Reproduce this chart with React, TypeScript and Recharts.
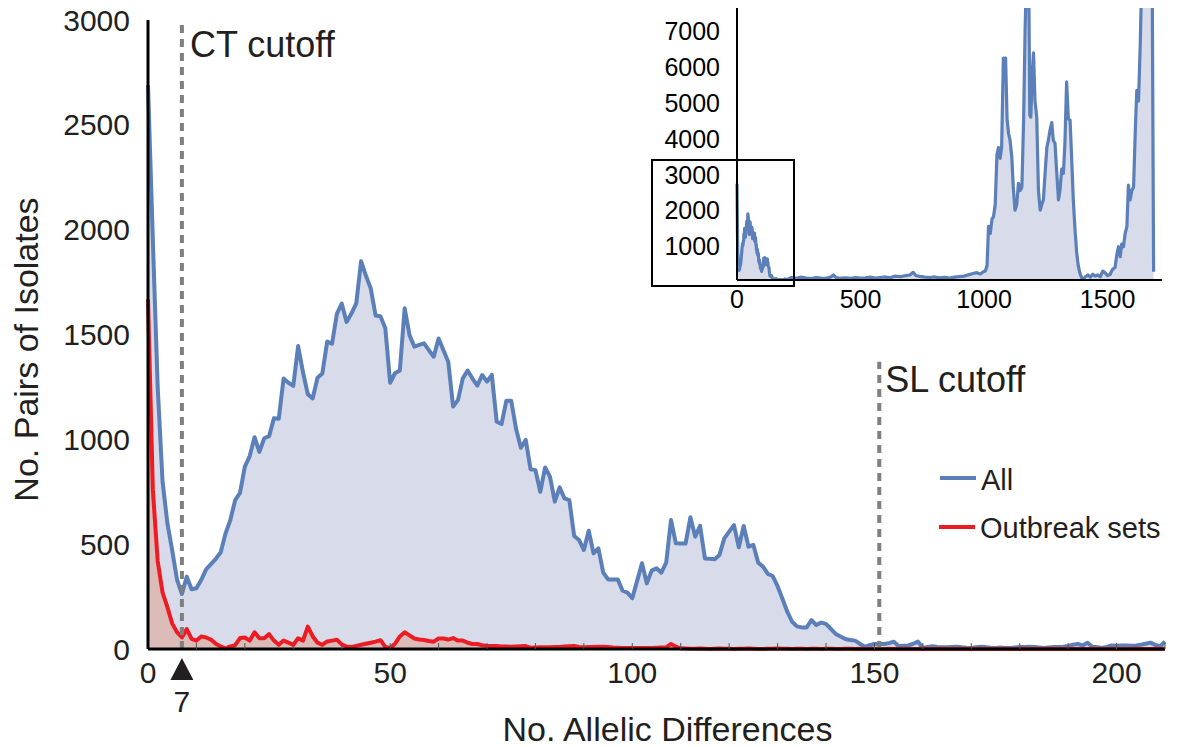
import React from 'react';
import { ComposedChart, AreaChart, Area, XAxis, YAxis, ReferenceLine, Legend } from 'recharts';

const FONT = '"Liberation Sans", Arial, Helvetica, sans-serif';
const TEXT = '#231f20';
const BLUE = '#5b7fb8';
const BLUE_FILL = '#d8dcea';
const RED = '#ed1c24';
const RED_FILL = '#dcbcb8';

// ---- main chart data (No. allelic differences 0..210) ----
const allelicDiffs: number[] = Array.from({ length: 211 }, (_, i) => i);

const allPairs: number[] = [
  2690, 1950, 1250, 800, 600, 470, 330, 262, 345, 285,
  290, 330, 380, 405, 430, 460, 550, 615, 710, 745,
  870, 920, 1010, 940, 1005, 1015, 1100, 1098, 1290, 1270,
  1255, 1445, 1320, 1215, 1195, 1294, 1314, 1466, 1456, 1598,
  1648, 1560, 1600, 1648, 1850, 1780, 1719, 1590, 1587, 1530,
  1270, 1315, 1328, 1625, 1497, 1442, 1450, 1458, 1425, 1394,
  1481, 1425, 1370, 1156, 1187, 1291, 1328, 1290, 1256, 1307,
  1275, 1307, 1084, 1073, 1184, 1184, 1050, 960, 997, 857,
  853, 750, 866, 822, 703, 771, 718, 710, 539, 520,
  472, 564, 456, 480, 364, 332, 332, 332, 278, 269,
  242, 325, 409, 313, 374, 385, 364, 412, 615, 504,
  503, 503, 628, 536, 587, 432, 430, 428, 448, 528,
  560, 591, 485, 587, 488, 496, 412, 393, 358, 348,
  300, 240, 178, 130, 108, 103, 103, 138, 114, 126,
  120, 96, 72, 60, 48, 43, 40, 25, 11, 18,
  24, 24, 24, 28, 35, 13, 15, 17, 25, 35,
  5, 10, 13, 10, 8, 8, 10, 11, 8, 6,
  5, 8, 11, 9, 6, 5, 7, 5, 5, 7,
  9, 10, 11, 9, 7, 5, 7, 9, 10, 11,
  15, 20, 24, 17, 30, 11, 8, 5, 10, 17,
  15, 17, 17, 15, 17, 20, 25, 30, 20, 13,
  35,
];

const outbreakPairs: number[] = [
  1668, 760, 420, 270, 200, 121, 80, 55, 95, 48,
  40, 60, 55, 45, 25, 12, 3, 12, 18, 52,
  55, 40, 80, 51, 51, 71, 40, 20, 40, 30,
  20, 51, 40, 107, 61, 30, 20, 36, 40, 44,
  22, 12, 10, 15, 20, 25, 30, 35, 42, 10,
  5, 25, 60, 80, 65, 50, 45, 43, 38, 35,
  50, 50, 45, 52, 40, 40, 30, 24, 24, 18,
  14, 14, 14, 12, 12, 11, 12, 13, 14, 6,
  7, 8, 8, 8, 9, 10, 12, 13, 14, 10,
  8, 9, 10, 11, 11, 9, 7, 6, 5, 5,
  5, 5, 5, 5, 5, 6, 7, 8, 24, 11,
  3, 2, 1, 1, 2, 1, 0, 1, 2, 1,
  1, 0, 1, 1, 2, 1, 0, 0, 1, 1,
  2, 1, 1, 0, 1, 1, 0, 1, 1, 0,
  1, 1, 0, 0, 1, 1, 0, 1, 0, 0,
  1, 0, 0, 1, 0, 0, 1, 0, 0, 0,
  1, 0, 0, 0, 1, 0, 0, 0, 1, 0,
  0, 0, 1, 0, 0, 0, 0, 1, 0, 0,
  0, 1, 0, 0, 0, 0, 1, 0, 0, 0,
  1, 0, 0, 0, 0, 1, 0, 0, 0, 0,
  1, 0, 0, 0, 1, 0, 0, 0, 1, 0,
  1,
];

const xTicks: number[] = [0, 7, 10, 20, 30, 40, 50, 60, 70, 80, 90, 100, 110, 120, 130, 140, 150, 160, 170, 180, 190, 200, 210];
const yTicks: number[] = [0, 500, 1000, 1500, 2000, 2500, 3000];
const ctCutoff = 7;
const slCutoff = 151;
const slLineTop = 1370;

// ---- inset data (beyond 210 differences) ----
const insetDiffs: number[] = [
  220, 240, 260, 280, 300, 320, 340, 360, 380, 390, 400, 420, 440, 460, 480, 500, 520, 540, 560, 580,
  600, 620, 640, 660, 680, 700, 713, 725, 740, 760, 780, 800, 820, 840, 860, 880, 900, 920, 940, 955,
  970, 985, 997, 1005, 1012, 1018, 1025, 1032, 1038, 1045, 1052, 1058, 1065, 1071, 1078, 1083, 1087, 1093, 1099, 1105,
  1112, 1118, 1125, 1132, 1139, 1146, 1153, 1160, 1166, 1173, 1180, 1185, 1189, 1195, 1200, 1206, 1213, 1220, 1227, 1233,
  1240, 1247, 1254, 1260, 1267, 1274, 1280, 1287, 1294, 1301, 1307, 1314, 1321, 1327, 1334, 1341, 1348, 1355, 1361, 1368,
  1375, 1381, 1388, 1395, 1402, 1410, 1420, 1430, 1440, 1450, 1460, 1470, 1480, 1490, 1500, 1510, 1520, 1530, 1537, 1544,
  1551, 1557, 1564, 1571, 1578, 1584, 1591, 1598, 1605, 1612, 1618, 1625, 1632, 1638, 1650, 1665, 1680, 1686,
];
const insetPairs: number[] = [
  70, 45, 80, 55, 40, 65, 50, 45, 85, 140, 70, 50, 60, 45, 65, 50, 60, 80, 55, 70,
  85, 60, 110, 90, 120, 140, 214, 120, 100, 80, 70, 85, 60, 75, 55, 80, 95, 110, 150, 180,
  205, 170, 233, 250, 400, 1500, 1300, 1700, 1770, 2100, 3500, 3700, 3400, 3700, 6200, 6000, 6200, 4500, 4100, 3900,
  3450, 2600, 1950, 2100, 2700, 2500, 2600, 4500, 7000, 9000, 9000, 4600, 4550, 5800, 6350, 5000, 4560, 2500, 1950, 2100,
  2240, 3000, 3700, 3900, 4200, 4400, 3900, 3820, 3000, 2240, 2500, 3100, 2980, 3800, 5540, 4500, 4470, 3300, 2240, 1400,
  745, 400, 186, 60, 30, 90, 140, 80, 160, 110, 140, 90, 250, 200, 120, 160, 300, 350, 700, 930,
  650, 1000, 930, 1300, 1500, 2650, 2235, 2500, 2600, 4200, 5300, 5000, 6600, 8500, 9000, 9000, 9000, 230,
];
const insetXTicks: number[] = [0, 500, 1000, 1500];
const insetYTicks: number[] = [1000, 2000, 3000, 4000, 5000, 6000, 7000];

const mainData = allelicDiffs.map((d, i) => ({ d, all: allPairs[i], outbreak: outbreakPairs[i] }));
const insetData = [
  ...allelicDiffs.map((d, i) => ({ d, v: allPairs[i] })),
  ...insetDiffs.map((d, i) => ({ d, v: insetPairs[i] })),
];

const XTick = (props: any) => {
  const { x, y, payload } = props;
  const v = payload.value;
  if (v === ctCutoff) {
    return (
      <g>
        <path d={`M${x},${y + 9} L${x - 11.5},${y + 31} L${x + 11.5},${y + 31} Z`} fill={TEXT} />
        <text x={x} y={y + 63} textAnchor="middle" fontSize={30} fontFamily={FONT} fill={TEXT}>7</text>
      </g>
    );
  }
  return (
    <g>
      {v > 0 && v % 10 === 0 ? <line x1={x} x2={x} y1={y - 6} y2={y} stroke="#555" strokeWidth={1} /> : null}
      {v % 50 === 0 ? (
        <text x={x} y={y + 34} textAnchor="middle" fontSize={30} fontFamily={FONT} fill={TEXT}>{v}</text>
      ) : null}
    </g>
  );
};

const YTick = (props: any) => {
  const { x, y, payload } = props;
  return (
    <text x={x} y={y + 10.5} textAnchor="end" fontSize={30} fontFamily={FONT} fill={TEXT}>{payload.value}</text>
  );
};

const InsetXTick = (props: any) => {
  const { x, y, payload } = props;
  return (
    <text x={x} y={y + 28} textAnchor="middle" fontSize={25} fontFamily={FONT} fill="#000">{payload.value}</text>
  );
};

const InsetYTick = (props: any) => {
  const { x, y, payload } = props;
  return (
    <text x={x} y={y + 11} textAnchor="end" fontSize={25} fontFamily={FONT} fill="#000">{payload.value}</text>
  );
};

const XTitle = (props: any) => {
  const vb = props.viewBox || { x: 148, y: 649, width: 1017, height: 98 };
  return (
    <text x={vb.x + vb.width / 2 + 11} y={vb.y + 92} textAnchor="middle" fontSize={34} fontFamily={FONT} fill={TEXT}>
      No. Allelic Differences
    </text>
  );
};

const YTitle = (props: any) => {
  const vb = props.viewBox || { x: 0, y: 20, width: 148, height: 629 };
  const cx = vb.x + 38;
  const cy = vb.y + vb.height / 2 + 15;
  return (
    <text x={cx} y={cy} transform={`rotate(-90, ${cx}, ${cy})`} textAnchor="middle" fontSize={34} fontFamily={FONT} fill={TEXT}>
      No. Pairs of Isolates
    </text>
  );
};

const CTLabel = (props: any) => {
  const vb = props.viewBox || { x: 182, y: 20 };
  return (
    <text x={vb.x + 8} y={vb.y + 37} fontSize={36} fontFamily={FONT} fill={TEXT}>CT cutoff</text>
  );
};

const SLLabel = (props: any) => {
  const vb = props.viewBox || { x: 879, y: 362 };
  return (
    <text x={vb.x + 6} y={vb.y + 30} fontSize={36} fontFamily={FONT} fill={TEXT}>SL cutoff</text>
  );
};

const LegendContent = () => (
  <svg width={240} height={90} style={{ display: 'block' }}>
    <line x1={5} x2={41} y1={18} y2={18} stroke={BLUE} strokeWidth={4} />
    <text x={46} y={30} fontSize={29} fontFamily={FONT} fill={TEXT}>All</text>
    <line x1={4} x2={40} y1={67} y2={67} stroke={RED} strokeWidth={4} />
    <text x={45} y={78} fontSize={29} fontFamily={FONT} fill={TEXT}>Outbreak sets</text>
  </svg>
);

export default function App() {
  return (
    <div style={{ position: 'absolute', left: 0, top: 0, width: 1180, height: 747, background: '#fff', fontFamily: FONT }}>
      <div style={{ position: 'absolute', left: 0, top: 0 }}>
        <ComposedChart width={1180} height={747} data={mainData} margin={{ top: 20, right: 15, bottom: 0, left: 0 }}>
          <XAxis
            dataKey="d"
            type="number"
            domain={[0, 210]}
            ticks={xTicks}
            interval={0}
            tickSize={0}
            tickMargin={0}
            tickLine={false}
            height={98}
            axisLine={{ stroke: '#000', strokeWidth: 3 }}
            tick={<XTick />}
            label={<XTitle />}
          />
          <YAxis
            type="number"
            domain={[0, 3000]}
            ticks={yTicks}
            interval={0}
            width={148}
            tickSize={0}
            tickMargin={18}
            tickLine={false}
            axisLine={{ stroke: '#000', strokeWidth: 3 }}
            tick={<YTick />}
            label={<YTitle />}
          />
          <Area
            type="linear"
            dataKey="all"
            name="All"
            stroke={BLUE}
            strokeWidth={4}
            fill={BLUE_FILL}
            fillOpacity={1}
            strokeLinejoin="round"
            dot={false}
            activeDot={false}
            isAnimationActive={false}
          />
          <Area
            type="linear"
            dataKey="outbreak"
            name="Outbreak sets"
            stroke={RED}
            strokeWidth={4}
            fill={RED_FILL}
            fillOpacity={1}
            strokeLinejoin="round"
            dot={false}
            activeDot={false}
            isAnimationActive={false}
          />
          <ReferenceLine
            x={ctCutoff}
            stroke="#7f7f7f"
            strokeWidth={4}
            strokeDasharray="8 6"
            label={<CTLabel />}
          />
          <ReferenceLine
            segment={[{ x: slCutoff, y: 0 }, { x: slCutoff, y: slLineTop }]}
            stroke="#7f7f7f"
            strokeWidth={4}
            strokeDasharray="8 6"
            label={<SLLabel />}
          />
          <Legend
            layout="vertical"
            align="center"
            verticalAlign="middle"
            content={<LegendContent />}
            wrapperStyle={{ position: 'absolute', left: 935, top: 460, width: 240, height: 90 }}
          />
        </ComposedChart>
      </div>
      <div style={{ position: 'absolute', left: 600, top: 0 }}>
        <AreaChart width={580} height={320} data={insetData} margin={{ top: 8, right: 18, bottom: 0, left: 0 }}>
          <XAxis
            dataKey="d"
            type="number"
            domain={[0, 1720]}
            ticks={insetXTicks}
            interval={0}
            tickSize={0}
            tickMargin={0}
            tickLine={false}
            height={40}
            axisLine={{ stroke: '#000', strokeWidth: 2 }}
            tick={<InsetXTick />}
          />
          <YAxis
            type="number"
            domain={[0, 7600]}
            allowDataOverflow
            ticks={insetYTicks}
            interval={0}
            width={137}
            tickSize={0}
            tickMargin={17}
            tickLine={false}
            axisLine={{ stroke: '#000', strokeWidth: 2 }}
            tick={<InsetYTick />}
          />
          <Area
            type="linear"
            dataKey="v"
            stroke={BLUE}
            strokeWidth={3.2}
            fill={BLUE_FILL}
            fillOpacity={1}
            strokeLinejoin="round"
            dot={false}
            activeDot={false}
            isAnimationActive={false}
          />
        </AreaChart>
      </div>
      <div
        style={{
          position: 'absolute',
          left: 651,
          top: 159,
          width: 144,
          height: 128,
          border: '2px solid #000',
          boxSizing: 'border-box',
          pointerEvents: 'none',
        }}
      />
    </div>
  );
}
